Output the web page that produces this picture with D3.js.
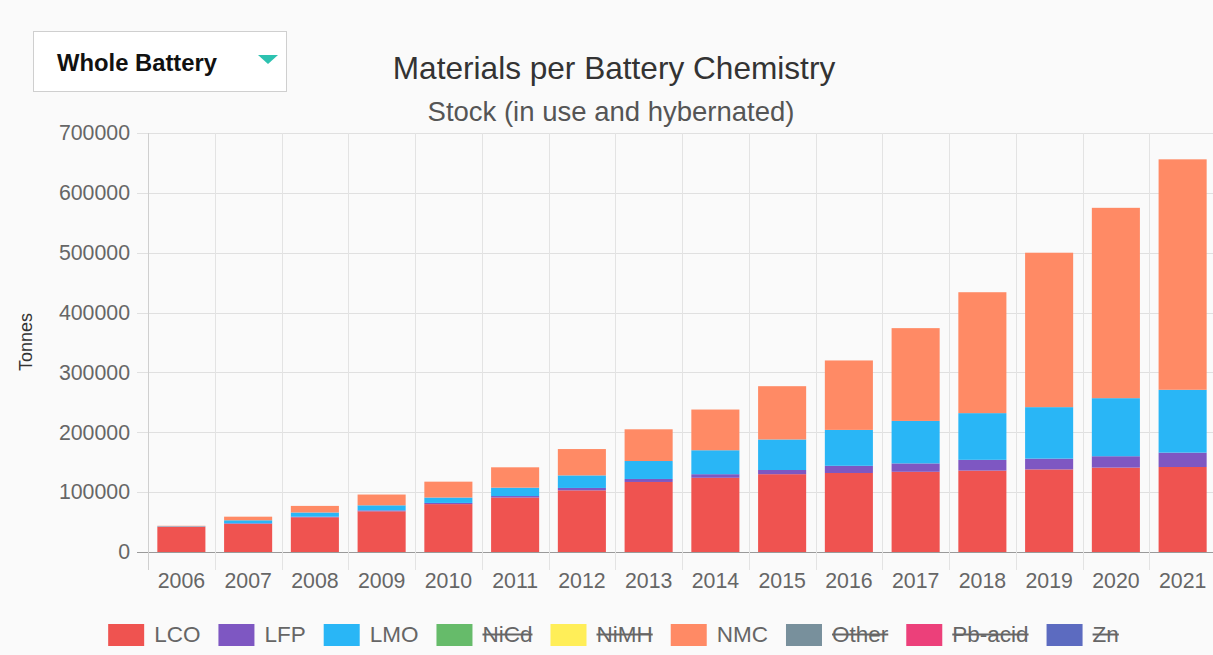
<!DOCTYPE html>
<html>
<head>
<meta charset="utf-8">
<script src="https://cdn.jsdelivr.net/npm/d3@7"></script>
<style>
  html, body { margin: 0; padding: 0; background: #fafafa; }
  svg { display: block; }
  text { font-family: "Liberation Sans", Arial, Helvetica, sans-serif; }
</style>
</head>
<body>
<svg id="chart" width="1213" height="655"></svg>
<script>
// ---- data ----
const years = ["2006","2007","2008","2009","2010","2011","2012","2013","2014","2015","2016","2017","2018","2019","2020","2021"];
const LCO = [42000, 47000, 58000, 68000, 80000, 91000, 103000, 117000, 124000, 130000, 132000, 134000, 136000, 138000, 141000, 142000];
const LFP = [300, 1000, 1000, 1500, 2000, 2500, 4000, 5000, 6000, 7000, 12000, 14000, 18000, 18000, 19000, 24000];
const LMO = [700, 5000, 7000, 8500, 9000, 14000, 21000, 30000, 40000, 51000, 60000, 71000, 78000, 86000, 97000, 105000];
const NMC = [800, 6000, 11000, 18000, 26500, 34000, 44000, 53000, 68000, 89000, 116000, 155000, 202000, 258000, 318000, 385000];
const yTicks = [0, 100000, 200000, 300000, 400000, 500000, 600000, 700000];
const legendNames = ["LCO", "LFP", "LMO", "NiCd", "NiMH", "NMC", "Other", "Pb-acid", "Zn"];
const legendColors = ["#ef5350", "#7e57c2", "#29b6f6", "#66bb6a", "#ffee58", "#ff8a65", "#78909c", "#ec407a", "#5c6bc0"];
const hiddenNames = ["NiCd", "NiMH", "Other", "Pb-acid", "Zn"];
const visibleSeries = { LCO, LFP, LMO, NMC };
const titleText = "Materials per Battery Chemistry";
const subtitleText = "Stock (in use and hybernated)";
const dropdownText = "Whole Battery";
const yLabel = "Tonnes";

// ---- layout ----
const svg = d3.select("#chart");
const plot = { left: 148, right: 1216, top: 133, bottom: 552 };
const colorOf = d3.scaleOrdinal().domain(legendNames).range(legendColors);

const x = d3.scaleBand().domain(years).range([plot.left, plot.right]).paddingInner(0).paddingOuter(0);
const y = d3.scaleLinear().domain([0, 700000]).range([plot.bottom, plot.top]);

// dropdown
svg.append("rect").attr("x", 33.5).attr("y", 31.5).attr("width", 253).attr("height", 60)
  .attr("fill", "#ffffff").attr("stroke", "#cfcfcf").attr("stroke-width", 1);
svg.append("text").attr("x", 57).attr("y", 71).attr("font-size", 23.8).attr("font-weight", "bold")
  .attr("fill", "#111").text(dropdownText);
svg.append("path").attr("d", "M258,55 L278,55 L268,64 Z").attr("fill", "#2dc2b0");

// titles
svg.append("text").attr("x", 614).attr("y", 79).attr("text-anchor", "middle")
  .attr("font-size", 31.6).attr("fill", "#333").text(titleText);
svg.append("text").attr("x", 611).attr("y", 121).attr("text-anchor", "middle")
  .attr("font-size", 27.5).attr("fill", "#555").text(subtitleText);

// gridlines
const grid = svg.append("g");
yTicks.forEach(t => {
  grid.append("line").attr("x1", plot.left - 11).attr("x2", plot.right)
    .attr("y1", Math.round(y(t)) + 0.5).attr("y2", Math.round(y(t)) + 0.5)
    .attr("stroke", t === 0 ? "#9a9a9a" : "#e0e0e0").attr("stroke-width", 1);
});
const xEdges = years.map(d => x(d)).concat([plot.right]);
xEdges.forEach((xe, i) => {
  grid.append("line").attr("x1", Math.round(xe) + 0.5).attr("x2", Math.round(xe) + 0.5)
    .attr("y1", plot.top).attr("y2", plot.bottom + 18)
    .attr("stroke", i === 0 ? "#cfcfcf" : "#e3e3e3").attr("stroke-width", 1);
});

// axes (labels via d3 axis)
const yAxis = svg.append("g").attr("transform", `translate(${plot.left - 14},0)`)
  .call(d3.axisLeft(y).tickValues(yTicks).tickFormat(d3.format("d")).tickSize(0).tickPadding(4));
yAxis.select(".domain").remove();
yAxis.selectAll("text").attr("font-size", 21.3).attr("fill", "#666")
  .attr("font-family", "'Liberation Sans', Arial, sans-serif");

const xAxis = svg.append("g").attr("transform", `translate(0,${plot.bottom})`)
  .call(d3.axisBottom(x).tickSize(0).tickPadding(21));
xAxis.select(".domain").remove();
xAxis.selectAll("text").attr("font-size", 21.3).attr("fill", "#666")
  .attr("font-family", "'Liberation Sans', Arial, sans-serif");

// y label
svg.append("text").attr("transform", "translate(32,342) rotate(-90)").attr("text-anchor", "middle")
  .attr("font-size", 18).attr("fill", "#333").text(yLabel);

// stacked bars
const keys = Object.keys(visibleSeries);
const rows = years.map((yr, i) => {
  const r = { year: yr };
  keys.forEach(k => r[k] = visibleSeries[k][i]);
  return r;
});
const stacked = d3.stack().keys(keys)(rows);
const barW = x.bandwidth() * 0.72;
const bars = svg.append("g");
stacked.forEach(layer => {
  bars.append("g").attr("fill", colorOf(layer.key))
    .selectAll("rect").data(layer).join("rect")
    .attr("x", d => x(d.data.year) + (x.bandwidth() - barW) / 2)
    .attr("width", barW)
    .attr("y", d => y(d[1]))
    .attr("height", d => y(d[0]) - y(d[1]));
});

// legend
const legend = svg.append("g");
const fs = 22.5, boxW = 36, boxH = 22, boxGap = 10, itemGap = 18;
const tmp = svg.append("text").attr("font-size", fs);
const widths = legendNames.map(n => { tmp.text(n); return tmp.node().getComputedTextLength(); });
tmp.remove();
const total = d3.sum(widths) + legendNames.length * (boxW + boxGap) + (legendNames.length - 1) * itemGap;
let cx = 613.5 - total / 2;
legendNames.forEach((n, i) => {
  const g = legend.append("g");
  g.append("rect").attr("x", cx).attr("y", 624).attr("width", boxW).attr("height", boxH)
    .attr("fill", colorOf(n));
  const tx = cx + boxW + boxGap;
  g.append("text").attr("x", tx).attr("y", 642).attr("font-size", fs).attr("fill", "#666").text(n);
  if (hiddenNames.includes(n)) {
    g.append("line").attr("x1", tx).attr("x2", tx + widths[i]).attr("y1", 634.5).attr("y2", 634.5)
      .attr("stroke", "#666").attr("stroke-width", 2);
  }
  cx = tx + widths[i] + itemGap;
});
</script>
</body>
</html>
